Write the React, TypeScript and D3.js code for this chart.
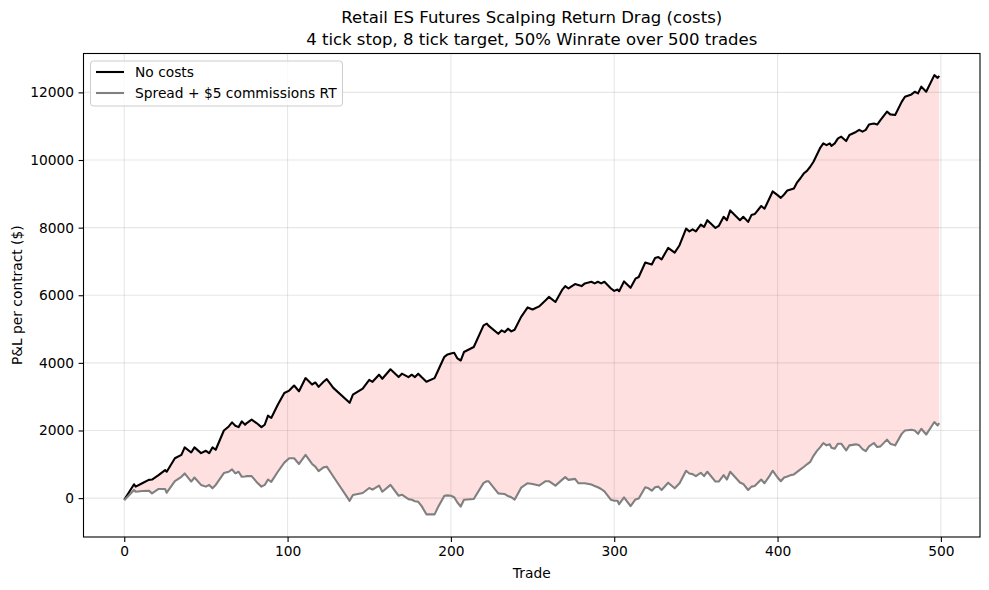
import { useEffect, useRef } from 'react';
import * as d3 from 'd3';

const trades = [
  0, 6, 7, 11, 15, 17, 21, 25, 26, 31, 35, 37, 41, 43, 47, 50, 52, 54, 56, 61,
  64, 66, 68, 70, 72, 74, 75, 78, 81, 84, 86, 88, 90, 94, 98, 101, 104, 107, 111, 115,
  117, 119, 122, 124, 128, 138, 140, 146, 150, 152, 156, 158, 163, 168, 170, 174, 176, 178, 180, 182,
  185, 190, 192, 196, 198, 200, 202, 204, 206, 208, 214, 220, 222, 223, 229, 231, 233, 235, 237, 239,
  243, 247, 250, 254, 258, 260, 264, 268, 270, 272, 276, 278, 280, 282, 286, 288, 290, 292, 294, 298,
  300, 302, 303, 306, 310, 313, 315, 319, 321, 323, 325, 327, 329, 333, 337, 340, 344, 346, 348, 350,
  353, 355, 357, 362, 364, 367, 369, 371, 377, 379, 382, 384, 386, 390, 392, 395, 397, 400, 402, 404,
  406, 408, 410, 412, 414, 416, 418, 420, 422, 424, 426, 428, 430, 432, 433, 435, 437, 439, 442, 444,
  448, 450, 452, 454, 456, 459, 461, 463, 467, 469, 472, 476, 478, 482, 484, 486, 488, 491, 496, 498,
  499,
];

const noCostPnl = [
  -50, 410, 340, 440, 540, 550, 680, 830, 780, 1180, 1280, 1500, 1350, 1500, 1330, 1400, 1330, 1500, 1430, 2000,
  2120, 2240, 2140, 2100, 2270, 2170, 2220, 2320, 2220, 2100, 2170, 2440, 2370, 2760, 3110, 3180, 3330, 3160, 3550, 3360,
  3420, 3290, 3440, 3520, 3260, 2820, 3060, 3240, 3500, 3440, 3650, 3530, 3810, 3580, 3680, 3580, 3650, 3580, 3680, 3580,
  3440, 3550, 3760, 4180, 4250, 4280, 4300, 4130, 4070, 4320, 4470, 5110, 5160, 5100, 4860, 4960, 4910, 5010, 4930, 4980,
  5360, 5640, 5580, 5670, 5850, 5950, 5800, 6150, 6270, 6200, 6330, 6300, 6270, 6350, 6400, 6350, 6400, 6350, 6400, 6200,
  6130, 6170, 6120, 6410, 6220, 6490, 6540, 6970, 6940, 6910, 7100, 7130, 7060, 7400, 7260, 7480, 7970, 7890, 7950, 7890,
  8090, 8020, 8220, 7990, 8050, 8320, 8220, 8510, 8220, 8320, 8170, 8370, 8400, 8640, 8560, 8860, 9070, 8960, 8880, 8980,
  9100, 9130, 9160, 9340, 9460, 9600, 9680, 9800, 9950, 10150, 10350, 10490, 10440, 10490, 10420, 10490, 10640, 10690, 10560, 10740,
  10830, 10890, 10840, 10890, 11050, 11080, 11050, 11180, 11430, 11350, 11330, 11720, 11870, 11940, 12020, 11970, 12170, 12020, 12510, 12430,
  12490,
];

const withCostPnl = [
  -60, 240, 190, 210, 220, 140, 270, 270, 160, 500, 630, 730, 490, 610, 390, 340, 390, 290, 390, 740,
  780, 850, 730, 780, 630, 640, 650, 650, 480, 340, 390, 550, 480, 780, 1050, 1180, 1180, 1010, 1280, 1010,
  930, 800, 910, 930, 640, -80, 90, 150, 300, 250, 370, 190, 390, 70, 100, -30, -50, -90, -110, -230,
  -480, -480, -280, 70, 80, 70, 25, -130, -250, -50, -25, 450, 500, 500, 140, 130, 120, 60, 25, -45,
  310, 440, 420, 370, 500, 500, 370, 540, 620, 540, 570, 440, 440, 440, 400, 360, 320, 270, 200, -50,
  -80, -80, -180, 20, -240, -40, -10, 320, 290, 220, 320, 340, 240, 455, 290, 440, 810, 730, 710, 650,
  750, 650, 780, 490, 490, 680, 550, 780, 460, 420, 240, 340, 360, 550, 440, 650, 810, 610, 500, 610,
  640, 680, 700, 775, 850, 920, 1000, 1070, 1250, 1390, 1500, 1630, 1560, 1590, 1490, 1460, 1610, 1610, 1410, 1560,
  1590, 1560, 1450, 1390, 1530, 1630, 1510, 1530, 1730, 1610, 1560, 1900, 2000, 2020, 2000, 1900, 2050, 1880, 2250, 2150,
  2220,
];

const xTicks = [0, 100, 200, 300, 400, 500];
const yTicks = [0, 2000, 4000, 6000, 8000, 10000, 12000];
const titleLines = [
  'Retail ES Futures Scalping Return Drag (costs)',
  '4 tick stop, 8 tick target, 50% Winrate over 500 trades',
];
const legendLabels = ['No costs', 'Spread + $5 commissions RT'];

const W = 989;
const H = 590;
const FONT = '"DejaVu Sans", sans-serif';

export default function App() {
  const svgRef = useRef<SVGSVGElement>(null);

  useEffect(() => {
    if (!svgRef.current) return;
    const svg = d3.select(svgRef.current);
    svg.selectAll('*').remove();

    const left = 83.5, right = 980, top = 53.5, bottom = 537;

    const x = d3.scaleLinear().domain([-24.95, 523.95]).range([left, right]);
    const y = d3.scaleLinear().domain([-1150, 13150]).range([bottom, top]);

    const rows = trades.map((t, i) => ({ t, a: noCostPnl[i], b: withCostPnl[i] }));

    // Grid
    const grid = svg.append('g').attr('stroke', '#b0b0b0').attr('stroke-opacity', 0.3).attr('stroke-width', 1.1);
    xTicks.forEach(t => {
      grid.append('line').attr('x1', x(t)).attr('x2', x(t)).attr('y1', top).attr('y2', bottom);
    });
    yTicks.forEach(v => {
      grid.append('line').attr('x1', left).attr('x2', right).attr('y1', y(v)).attr('y2', y(v));
    });

    // Drag area between the two curves
    const area = d3.area<typeof rows[number]>()
      .x(d => x(d.t))
      .y0(d => y(d.b))
      .y1(d => y(d.a));
    svg.append('path')
      .datum(rows)
      .attr('fill', 'red')
      .attr('fill-opacity', 0.12)
      .attr('d', area);

    const lineA = d3.line<typeof rows[number]>().x(d => x(d.t)).y(d => y(d.a));
    const lineB = d3.line<typeof rows[number]>().x(d => x(d.t)).y(d => y(d.b));

    svg.append('path')
      .datum(rows)
      .attr('fill', 'none')
      .attr('stroke', '#000')
      .attr('stroke-width', 2.1)
      .attr('stroke-linejoin', 'round')
      .attr('d', lineA);

    svg.append('path')
      .datum(rows)
      .attr('fill', 'none')
      .attr('stroke', '#808080')
      .attr('stroke-width', 2.1)
      .attr('stroke-linejoin', 'round')
      .attr('d', lineB);

    // Axes
    const xAxis = svg.append('g')
      .attr('transform', `translate(0,${bottom})`)
      .call(d3.axisBottom(x).tickValues(xTicks).tickSize(4.9).tickPadding(4.5).tickFormat(d3.format('d')));
    const yAxis = svg.append('g')
      .attr('transform', `translate(${left},0)`)
      .call(d3.axisLeft(y).tickValues(yTicks).tickSize(4.9).tickPadding(4.5).tickFormat(d3.format('d')));

    [xAxis, yAxis].forEach(ax => {
      ax.select('.domain').remove();
      ax.selectAll('line').attr('stroke', '#000').attr('stroke-width', 1.1);
      ax.selectAll('text').attr('fill', '#000').style('font-family', FONT).style('font-size', '13.8px');
    });

    // Frame
    svg.append('rect')
      .attr('x', left).attr('y', top)
      .attr('width', right - left).attr('height', bottom - top)
      .attr('fill', 'none').attr('stroke', '#000').attr('stroke-width', 1.1);

    // Axis labels
    svg.append('text')
      .attr('x', (left + right) / 2).attr('y', 578)
      .attr('text-anchor', 'middle')
      .style('font-family', FONT).style('font-size', '13.8px')
      .text('Trade');

    svg.append('text')
      .attr('transform', `translate(22,${(top + bottom) / 2}) rotate(-90)`)
      .attr('text-anchor', 'middle')
      .style('font-family', FONT).style('font-size', '13.8px')
      .text('P&L per contract ($)');

    // Title
    titleLines.forEach((s, i) => {
      svg.append('text')
        .attr('x', (left + right) / 2).attr('y', 23 + i * 22)
        .attr('text-anchor', 'middle')
        .style('font-family', FONT).style('font-size', '16.5px')
        .text(s);
    });

    // Legend
    const legend = svg.append('g');
    legend.append('rect')
      .attr('x', 90.5).attr('y', 61)
      .attr('width', 252).attr('height', 45)
      .attr('rx', 3)
      .attr('fill', '#fff').attr('fill-opacity', 0.8)
      .attr('stroke', '#cccccc').attr('stroke-width', 1);
    const legendColors = ['#000', '#808080'];
    legendLabels.forEach((s, i) => {
      const ly = 72 + i * 21;
      legend.append('line')
        .attr('x1', 96).attr('x2', 124).attr('y1', ly).attr('y2', ly)
        .attr('stroke', legendColors[i]).attr('stroke-width', 2.1);
      legend.append('text')
        .attr('x', 135).attr('y', ly + 5)
        .style('font-family', FONT).style('font-size', '13.8px')
        .text(s);
    });
  }, []);

  return (
    <svg
      ref={svgRef}
      width={W}
      height={H}
      style={{ position: 'absolute', left: 0, top: 0, background: '#fff' }}
    />
  );
}
